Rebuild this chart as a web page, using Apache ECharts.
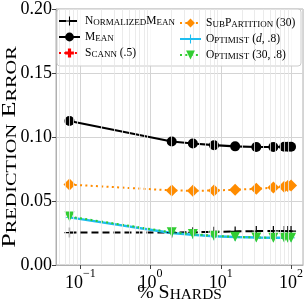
<!DOCTYPE html>
<html><head><meta charset="utf-8">
<script src="https://cdn.jsdelivr.net/npm/echarts@6/dist/echarts.min.js"></script>
<style>html,body{margin:0;padding:0;background:#fff}#c{width:307px;height:307px}</style>
</head><body><div id="c"></div>
<script>
// ---- data ----
const shards = [0.07, 2, 4, 8, 16, 32, 56, 80, 90, 100];
const normalizedMean = [0.0253, 0.0253, 0.0256, 0.0259, 0.0262, 0.0265, 0.0266, 0.0265, 0.0265, 0.0265];
const mean = [0.1125, 0.0965, 0.0949, 0.0936, 0.0927, 0.0922, 0.0922, 0.0924, 0.0924, 0.0924];
const scann = [];
const subPartition = [0.0628, 0.0583, 0.0580, 0.0582, 0.0588, 0.0595, 0.0605, 0.0612, 0.0617, 0.0622];
const optimistD = [0.0372, 0.0250, 0.0236, 0.0224, 0.0218, 0.0215, 0.0213, 0.0212, 0.0212, 0.0212];
const optimist30 = [0.0378, 0.0255, 0.0242, 0.0228, 0.0220, 0.0215, 0.0213, 0.0212, 0.0212, 0.0212];
const yTicks = [0, 0.05, 0.10, 0.15, 0.20];
const xMajor = [0.1, 1, 10, 100];
const xMinor = [0.05,0.06,0.07,0.08,0.09,0.2,0.3,0.4,0.5,0.6,0.7,0.8,0.9,2,3,4,5,6,7,8,9,20,30,40,50,60,70,80,90];
const names = ['NormalizedMean', 'Mean', 'Scann (.5)', 'SubPartition (30)', 'Optimist (d, .8)', 'Optimist (30, .8)'];

const F = '"Liberation Serif", "DejaVu Serif", serif';

function smallCaps(str) {
  let out = '', cur = null, buf = '';
  const flush = () => { if (buf) out += '{' + cur + '|' + buf + '}'; buf = ''; };
  for (const ch of str) {
    const st = /[a-z]/.test(ch) ? 's' : 'b';
    if (st !== cur) { flush(); cur = st; }
    buf += st === 's' ? ch.toUpperCase() : ch;
  }
  flush();
  return out;
}
function legendText(name) {
  const k = name.indexOf(' (');
  if (k < 0) return smallCaps(name);
  const head = name.slice(0, k), tail = name.slice(k);
  let t = '';
  for (const part of tail.split(/(d)/)) {
    if (!part) continue;
    t += part === 'd' ? '{i|d}' : '{n|' + part + '}';
  }
  return smallCaps(head) + t;
}
function richSet(big, small) {
  return {
    b: {fontFamily: F, fontSize: big, color: '#000', verticalAlign: 'bottom'},
    s: {fontFamily: F, fontSize: small, color: '#000', verticalAlign: 'bottom'},
    n: {fontFamily: F, fontSize: big, color: '#000', verticalAlign: 'bottom'},
    i: {fontFamily: F, fontSize: big, color: '#000', fontStyle: 'italic', verticalAlign: 'bottom'}
  };
}

const plusThin = 'path://M4.4,0H5.6V4.4H10V5.6H5.6V10H4.4V5.6H0V4.4H4.4Z';
const plusThick = 'path://M3.2,0H6.8V3.2H10V6.8H6.8V10H3.2V6.8H0V3.2H3.2Z';
const diamond = 'path://M5,0L10,5L5,10L0,5Z';
const triDown = 'path://M0,0H10L5,8.7Z';

function pairs(arr) { return arr.map((v, i) => [shards[i], v]); }
function mk(name, arr, color, lineType, width, symbol, size) {
  return {
    name, type: 'line', data: pairs(arr), symbol, symbolSize: size,
    lineStyle: {color, width, type: lineType}, itemStyle: {color},
    emphasis: {disabled: true}, z: 3
  };
}

const chart = echarts.init(document.getElementById('c'), null, {renderer: 'canvas'});
const legendBase = {
  orient: 'vertical', itemWidth: 21, itemHeight: 11, itemGap: 4,
  formatter: legendText, textStyle: {rich: richSet(11.5, 9), fontFamily: F}, selectedMode: false,
  padding: 0, z: 6
};
chart.setOption({
  animation: false,
  grid: {left: 56, right: 4, top: 7, bottom: 42, show: true, borderColor: '#b0b0b0', borderWidth: 1},
  xAxis: {
    type: 'log', logBase: 10, min: 0.045, max: 148,
    axisLine: {show: true, lineStyle: {color: '#b0b0b0'}},
    axisTick: {show: true, length: 4, lineStyle: {color: '#444'}},
    splitLine: {show: true, lineStyle: {color: '#d4d4d4', width: 1}},
    axisLabel: {
      margin: 3, showMinLabel: false, showMaxLabel: false,
      formatter: v => {
        const l = Math.log10(v), e = Math.round(l);
        if (Math.abs(l - e) > 1e-6 || !xMajor.some(m => Math.abs(m - v) < 1e-9 * m + 1e-12)) return '';
        return '{b|10}{s|' + (e < 0 ? '\u2212' + (-e) : e) + '}';
      },
      rich: {
        b: {fontFamily: F, fontSize: 18, color: '#000', lineHeight: 24, verticalAlign: 'bottom'},
        s: {fontFamily: F, fontSize: 12, color: '#000', lineHeight: 14, verticalAlign: 'top'}
      }
    }
  },
  yAxis: {
    type: 'value', min: yTicks[0], max: yTicks[yTicks.length - 1], interval: 0.05,
    axisLine: {show: true, lineStyle: {color: '#b0b0b0'}},
    axisTick: {show: true, length: 4, lineStyle: {color: '#444'}},
    splitLine: {show: true, lineStyle: {color: '#d4d4d4', width: 1}},
    axisLabel: {margin: 4, fontFamily: F, fontSize: 18, color: '#000', formatter: v => v.toFixed(2)}
  },
  legend: [
    Object.assign({data: names.slice(0, 3), left: 58, top: 15}, legendBase),
    Object.assign({data: names.slice(3), left: 179, top: 17}, legendBase)
  ],
  graphic: [
    {type: 'rect', z: 5, shape: {x: 57, y: 9, width: 244, height: 57, r: 3},
     style: {fill: 'rgba(255,255,255,0.85)', stroke: '#cccccc', lineWidth: 1}},
    {type: 'text', z: 5, x: 179.5, y: 293, scaleX: 1.1,
     style: {text: smallCaps('% Shards'), rich: richSet(18, 14), fill: '#000', align: 'center', verticalAlign: 'middle', font: '18px ' + F}},
    {type: 'text', z: 5, x: 10, y: 147, rotation: Math.PI / 2, scaleX: 1.45,
     style: {text: smallCaps('Prediction Error'), rich: richSet(18, 14), fill: '#000', align: 'center', verticalAlign: 'middle', font: '18px ' + F}}
  ],
  series: [
    {type: 'line', data: [], z: 1, silent: true,
     markLine: {silent: true, symbol: 'none', label: {show: false},
       lineStyle: {color: '#e6e6e6', width: 0.8, type: 'solid'},
       data: xMinor.map(v => ({xAxis: v}))}},
    mk(names[0], normalizedMean, '#000000', [7, 4], 2, plusThin, 10),
    mk(names[1], mean, '#000000', 'solid', 2.2, 'circle', 10),
    mk(names[2], scann, '#ff0000', [2, 3.3], 2, plusThick, 10),
    mk(names[3], subPartition, '#ff8c00', [2, 3.3], 2, diamond, 12),
    mk(names[4], optimistD, '#1ebef0', 'solid', 2.5, plusThin, 8),
    mk(names[5], optimist30, '#32cd32', [2, 3.3], 2, triDown, 10)
  ]
});
</script></body></html>
